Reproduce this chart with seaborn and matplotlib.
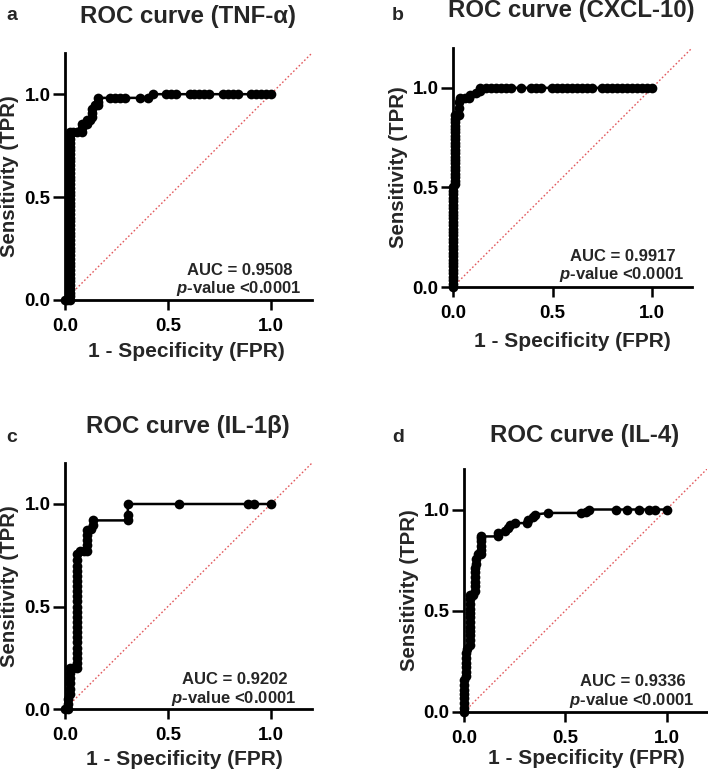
import matplotlib
matplotlib.use("Agg")
import matplotlib.pyplot as plt
import seaborn as sns
import pandas as pd

# ---------------- data ----------------
tnf_fpr = [0.0, 0.012,
           0.024, 0.024, 0.024, 0.024, 0.024, 0.024, 0.024, 0.024, 0.024, 0.024,
           0.024, 0.024, 0.024, 0.024, 0.024, 0.024, 0.024, 0.024, 0.024, 0.024,
           0.024, 0.024, 0.024, 0.024, 0.024, 0.024, 0.024, 0.024, 0.024, 0.024,
           0.024, 0.024, 0.024, 0.024, 0.024, 0.024, 0.024, 0.024, 0.024, 0.024,
           0.024, 0.024, 0.024, 0.024, 0.024, 0.024,
           0.040, 0.056, 0.081, 0.081, 0.081, 0.105, 0.105, 0.121, 0.129, 0.129,
           0.129, 0.145, 0.161, 0.161, 0.161,
           0.218, 0.242, 0.266, 0.290, 0.363, 0.403,
           0.427, 0.492, 0.516, 0.540, 0.605, 0.629, 0.653, 0.677, 0.702, 0.766,
           0.790, 0.815, 0.839, 0.903, 0.927, 0.952, 0.976, 1.0]
tnf_tpr = [0.0, 0.0,
           0.0, 0.018, 0.036, 0.055, 0.073, 0.091, 0.109, 0.127, 0.145, 0.164,
           0.182, 0.200, 0.218, 0.236, 0.255, 0.273, 0.291, 0.309, 0.327, 0.345,
           0.364, 0.382, 0.400, 0.418, 0.436, 0.455, 0.473, 0.491, 0.509, 0.527,
           0.545, 0.564, 0.582, 0.600, 0.618, 0.636, 0.655, 0.673, 0.691, 0.709,
           0.727, 0.745, 0.764, 0.782, 0.800, 0.818,
           0.818, 0.818, 0.818, 0.836, 0.855, 0.855, 0.873, 0.873, 0.891, 0.909,
           0.927, 0.945, 0.945, 0.964, 0.982,
           0.982, 0.982, 0.982, 0.982, 0.982, 0.982,
           1.0, 1.0, 1.0, 1.0, 1.0, 1.0, 1.0, 1.0, 1.0, 1.0,
           1.0, 1.0, 1.0, 1.0, 1.0, 1.0, 1.0, 1.0]

cxcl_fpr = [0.0, 0.0, 0.0, 0.0, 0.0, 0.0, 0.0, 0.0, 0.0, 0.0,
            0.0, 0.0, 0.0, 0.0, 0.0, 0.0, 0.0, 0.0, 0.0, 0.0,
            0.0, 0.0, 0.0, 0.0, 0.0, 0.0, 0.0, 0.0, 0.0, 0.0,
            0.008, 0.008, 0.008, 0.008, 0.008, 0.008, 0.008, 0.008, 0.008, 0.008,
            0.008, 0.008, 0.008, 0.008, 0.008, 0.008, 0.008, 0.008, 0.008, 0.008,
            0.008,
            0.017, 0.029, 0.029, 0.029, 0.037, 0.058, 0.079, 0.087, 0.113, 0.138,
            0.138,
            0.164, 0.189, 0.214, 0.239, 0.264, 0.289, 0.339, 0.390, 0.415, 0.440,
            0.498, 0.523, 0.548, 0.574, 0.599, 0.624, 0.649, 0.674, 0.699,
            0.749, 0.774, 0.799, 0.824, 0.849, 0.874, 0.900, 0.925, 0.950, 0.975,
            1.0]
cxcl_tpr = [0.0, 0.017, 0.034, 0.052, 0.069, 0.086, 0.103, 0.121, 0.138, 0.155,
            0.172, 0.190, 0.207, 0.224, 0.241, 0.259, 0.276, 0.293, 0.310, 0.328,
            0.345, 0.362, 0.379, 0.397, 0.414, 0.431, 0.448, 0.466, 0.483, 0.500,
            0.517, 0.534, 0.552, 0.569, 0.586, 0.603, 0.621, 0.638, 0.655, 0.672,
            0.690, 0.707, 0.724, 0.741, 0.759, 0.776, 0.793, 0.810, 0.828, 0.845,
            0.862,
            0.862, 0.862, 0.897, 0.931, 0.948, 0.948, 0.948, 0.966, 0.974, 0.983,
            1.0,
            1.0, 1.0, 1.0, 1.0, 1.0, 1.0, 1.0, 1.0, 1.0, 1.0,
            1.0, 1.0, 1.0, 1.0, 1.0, 1.0, 1.0, 1.0, 1.0,
            1.0, 1.0, 1.0, 1.0, 1.0, 1.0, 1.0, 1.0, 1.0, 1.0,
            1.0]

il1b_fpr = [0.0, 0.016, 0.016, 0.016, 0.024, 0.024, 0.024, 0.024, 0.024, 0.024,
            0.040, 0.057,
            0.057, 0.057, 0.057, 0.057, 0.057, 0.057, 0.057, 0.057, 0.057, 0.057,
            0.057, 0.057, 0.057, 0.057, 0.057, 0.057, 0.057, 0.057, 0.057, 0.057,
            0.057, 0.057,
            0.073, 0.090, 0.109, 0.109, 0.109, 0.109, 0.109, 0.125, 0.138, 0.138,
            0.305, 0.305, 0.305, 0.556, 0.891, 0.916, 1.0]
il1b_tpr = [0.0, 0.0, 0.025, 0.050, 0.075, 0.100, 0.125, 0.150, 0.175, 0.200,
            0.200, 0.200,
            0.225, 0.250, 0.275, 0.300, 0.325, 0.350, 0.375, 0.400, 0.425, 0.450,
            0.475, 0.500, 0.525, 0.550, 0.575, 0.600, 0.625, 0.650, 0.675, 0.700,
            0.725, 0.755,
            0.770, 0.770, 0.770, 0.800, 0.825, 0.850, 0.875, 0.880, 0.900, 0.920,
            0.920, 0.945, 1.0, 1.0, 1.0, 1.0, 1.0]

il4_fpr = [0.0, 0.0, 0.0, 0.0, 0.0, 0.0, 0.0, 0.0,
           0.008, 0.008, 0.008, 0.008, 0.008, 0.008,
           0.016,
           0.030, 0.030, 0.030, 0.030, 0.030, 0.030, 0.030, 0.030, 0.030, 0.030,
           0.030, 0.030,
           0.045, 0.053, 0.056, 0.056, 0.056, 0.056, 0.056, 0.061, 0.061, 0.069,
           0.086, 0.086, 0.086, 0.086, 0.086, 0.086,
           0.169, 0.169, 0.202, 0.218, 0.227, 0.251, 0.309, 0.317, 0.342, 0.350,
           0.417, 0.577, 0.600, 0.615,
           0.753, 0.807, 0.862, 0.914, 0.944, 1.0]
il4_tpr = [0.0, 0.022, 0.044, 0.067, 0.089, 0.111, 0.133, 0.156,
           0.178, 0.200, 0.222, 0.244, 0.267, 0.289,
           0.311,
           0.333, 0.356, 0.378, 0.400, 0.422, 0.444, 0.467, 0.489, 0.511, 0.533,
           0.556, 0.578,
           0.578, 0.600, 0.622, 0.644, 0.667, 0.689, 0.711, 0.733, 0.756, 0.778,
           0.778, 0.800, 0.822, 0.844, 0.860, 0.867,
           0.867, 0.884, 0.893, 0.911, 0.925, 0.933, 0.933, 0.950, 0.963, 0.975,
           0.983, 0.983, 0.990, 1.0,
           1.0, 1.0, 1.0, 1.0, 1.0, 1.0]

titles = ["ROC curve (TNF-\u03b1)", "ROC curve (CXCL-10)",
          "ROC curve (IL-1\u03b2)", "ROC curve (IL-4)"]
letters = ["a", "b", "c", "d"]
auc_values = ["0.9508", "0.9917", "0.9202", "0.9336"]
tick_vals = [0.0, 0.5, 1.0]
tick_labels = ["0.0", "0.5", "1.0"]
xlabel = "1 - Specificity (FPR)"
ylabel = "Sensitivity (TPR)"

# ---------------- style ----------------
W, H = 708, 775
sns.set_style("ticks")
plt.rcParams["font.family"] = ["Liberation Sans", "DejaVu Sans"]
plt.rcParams["font.weight"] = "bold"
plt.rcParams["mathtext.fontset"] = "custom"
plt.rcParams["mathtext.it"] = "Liberation Sans:italic:bold"
plt.rcParams["mathtext.rm"] = "Liberation Sans:bold"
plt.rcParams["mathtext.bf"] = "Liberation Sans:bold"

fig = plt.figure(figsize=(W / 100, H / 100), dpi=100)
fig.patch.set_facecolor("white")


def fx(px):
    return px / W


def fy(py):
    return 1 - py / H


# layout in pixels: (left, top, right, bottom) of axes, text anchors
layouts = [
    dict(rect=(65, 53, 312, 300), title=(188.5, 23), letter=(12, 20),
         auc=(240, 275), p=(238.5, 292.5), xl=(0.49, -0.21), yl=(-0.223, 0.5)),
    dict(rect=(453, 48, 692, 287), title=(571.5, 17), letter=(398, 20),
         auc=(623, 261), p=(621.5, 279), xl=(0.50, -0.226), yl=(-0.226, 0.5)),
    dict(rect=(65, 463, 312, 709), title=(187.5, 433), letter=(12, 442),
         auc=(235, 683.5), p=(234, 702.5), xl=(0.482, -0.207), yl=(-0.223, 0.5)),
    dict(rect=(464, 469, 707, 712), title=(584.5, 442), letter=(398, 442),
         auc=(633, 686.5), p=(631.5, 705), xl=(0.504, -0.193), yl=(-0.226, 0.5)),
]
series = [(tnf_fpr, tnf_tpr), (cxcl_fpr, cxcl_tpr),
          (il1b_fpr, il1b_tpr), (il4_fpr, il4_tpr)]

for i, lay in enumerate(layouts):
    l, t, r, b = lay["rect"]
    ax = fig.add_axes([fx(l), fy(b), (r - l) / W, (b - t) / H])
    ax.set_facecolor("white")
    fpr, tpr = series[i]
    df = pd.DataFrame({"fpr": fpr, "tpr": tpr})
    ax.axline((0, 0), slope=1, color="#e25a5e", lw=1.0,
              ls=(0, (1.2, 1.6)), zorder=1)
    sns.lineplot(data=df, x="fpr", y="tpr", sort=False, estimator=None,
                 ax=ax, color="black", lw=1.8, marker="o", markersize=7,
                 markeredgewidth=0, markerfacecolor="black",
                 clip_on=False, zorder=3)
    ax.set_xlim(0, 1.2)
    ax.set_ylim(0, 1.2)
    sns.despine(ax=ax)
    for s in ("left", "bottom"):
        ax.spines[s].set_linewidth(2.0)
        ax.spines[s].set_color("black")
    ax.set_xticks(tick_vals)
    ax.set_xticklabels(tick_labels)
    ax.set_yticks(tick_vals)
    ax.set_yticklabels(tick_labels)
    ax.tick_params(axis="x", length=7, width=1.8, pad=6, labelsize=13.5,
                   colors="black")
    ax.tick_params(axis="y", length=8.5, width=1.8, pad=2, labelsize=13.5,
                   colors="black")
    for lab in ax.get_xticklabels() + ax.get_yticklabels():
        lab.set_fontweight("bold")
    ax.set_xlabel(xlabel, fontsize=15, fontweight="bold", va="center",
                  ha="center")
    ax.xaxis.set_label_coords(*lay["xl"])
    ax.set_ylabel(ylabel, fontsize=14.7, fontweight="bold", va="center",
                  ha="center")
    ax.yaxis.set_label_coords(*lay["yl"])

    tx, ty = lay["title"]
    fig.text(fx(tx), fy(ty), titles[i], fontsize=17.3, fontweight="bold",
             ha="center", va="baseline")
    lx, ly = lay["letter"]
    fig.text(fx(lx), fy(ly), letters[i], fontsize=14, fontweight="bold",
             ha="center", va="baseline")
    ax_, ay_ = lay["auc"]
    fig.text(fx(ax_), fy(ay_), "AUC = " + auc_values[i], fontsize=12,
             fontweight="bold", ha="center", va="baseline")
    px_, py_ = lay["p"]
    fig.text(fx(px_), fy(py_), r"$\mathit{p}$-value <0.0001", fontsize=12,
             fontweight="bold", ha="center", va="baseline")

fig.savefig("out.png", dpi=100, facecolor="white")
